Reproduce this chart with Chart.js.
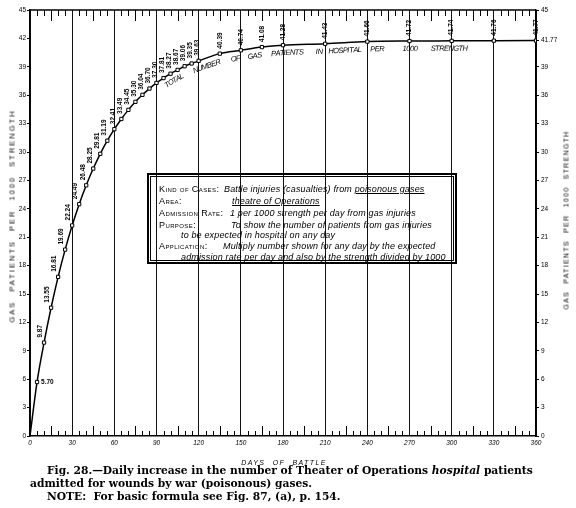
<!DOCTYPE html>
<html><head><meta charset="utf-8">
<script src="https://cdn.jsdelivr.net/npm/chart.js@4"></script>
<style>
html,body{margin:0;padding:0;background:#fff;}
#wrap{position:relative;width:576px;height:508px;overflow:hidden;background:#fff;}
#c{position:absolute;left:0;top:0;}
.rot{position:absolute;white-space:nowrap;font-family:"Liberation Sans",sans-serif;color:#000;transform:translate(-50%,-50%) rotate(-90deg);}
.xt{position:absolute;white-space:nowrap;font-family:"Liberation Sans",sans-serif;font-style:italic;color:#000;transform:translate(-50%,-50%);}
#box{position:absolute;left:147px;top:173px;width:304px;height:85px;border:2px solid #000;padding:1px;}
#inner{position:relative;width:100%;height:100%;border:1px solid #000;box-sizing:border-box;}
.bl{position:absolute;white-space:nowrap;font-family:"Liberation Sans",sans-serif;font-size:9px;line-height:10px;color:#000;}
.lab{font-variant:small-caps;font-size:9px;letter-spacing:0.4px;}
.it{font-style:italic;letter-spacing:0.15px;}
.u{text-decoration:underline;}
.cap{position:absolute;white-space:nowrap;font-family:"DejaVu Serif",serif;font-weight:bold;font-size:10.7px;line-height:13px;color:#000;}
</style></head>
<body><div id="wrap">
<canvas id="c" width="576" height="508"></canvas>
<div class="rot" style="left:12px;top:216px;font-size:7.5px;letter-spacing:2px;word-spacing:5px;">GAS PATIENTS PER 1000 STRENGTH</div>
<div class="rot" style="left:566px;top:220px;font-size:7px;letter-spacing:1.3px;word-spacing:4px;">GAS PATIENTS PER 1000 STRENGTH</div>
<div class="xt" style="left:284px;top:462px;font-size:7px;letter-spacing:1.4px;word-spacing:4px;">DAYS OF BATTLE</div>
<div id="box"><div id="inner">
<div class="bl lab" style="left:8px;top:7px;">Kind of Cases:</div>
<div class="bl it" style="left:73px;top:7px;">Battle injuries (casualties) from <span class="u">poisonous gases</span></div>
<div class="bl lab" style="left:8px;top:19px;">Area:</div>
<div class="bl it u" style="left:81px;top:19px;">theatre of Operations</div>
<div class="bl lab" style="left:8px;top:31px;">Admission Rate:</div>
<div class="bl it" style="left:79px;top:31px;">1 per 1000 strength per day from gas injuries</div>
<div class="bl lab" style="left:8px;top:43px;">Purpose:</div>
<div class="bl it" style="left:80px;top:43px;">To show the number of patients from gas injuries</div>
<div class="bl it" style="left:30px;top:53px;">to be expected in hospital on any day</div>
<div class="bl lab" style="left:8px;top:64px;">Application:</div>
<div class="bl it" style="left:72px;top:64px;">Multiply number shown for any day by the expected</div>
<div class="bl it" style="left:30px;top:75px;">admission rate per day and also by the strength divided by 1000</div>
</div></div>
<div class="cap" style="left:47px;top:464px;">Fig. 28.—Daily increase in the number of Theater of Operations <i>hospital</i> patients</div>
<div class="cap" style="left:30px;top:477px;">admitted for wounds by war (poisonous) gases.</div>
<div class="cap" style="left:47px;top:490px;">NOTE:&nbsp; For basic formula see Fig. 87, (a), p. 154.</div>
</div>
<script>
const days = [0,5,10,15,20,25,30,35,40,45,50,55,60,65,70,75,80,85,90,95,100,105,110,115,120,135,150,165,180,210,240,270,300,330,360];
const patients = [0,5.70,9.87,13.55,16.81,19.69,22.24,24.49,26.48,28.25,29.81,31.19,32.41,33.49,34.45,35.30,36.04,36.70,37.30,37.81,38.27,38.67,39.06,39.35,39.63,40.39,40.74,41.08,41.28,41.43,41.66,41.72,41.74,41.76,41.77];
const dayTicks = [0,30,60,90,120,150,180,210,240,270,300,330,360];
const leftTicks = [0,3,6,9,12,15,18,21,24,27,30,33,36,39,42,45];
const rightTicks = [0,3,6,9,12,15,18,21,24,27,30,33,36,39,41.77,45];
const curveWords = ['TOTAL','NUMBER','OF','GAS','PATIENTS','IN','HOSPITAL','PER','1000','STRENGTH'];

const FONT = '"Liberation Sans", sans-serif';

function curveVal(d){
  if (d <= days[0]) return patients[0];
  for (let i = 1; i < days.length; i++) {
    if (d <= days[i]) {
      const t = (d - days[i-1]) / (days[i] - days[i-1]);
      return patients[i-1] + t * (patients[i] - patients[i-1]);
    }
  }
  return patients[patients.length - 1];
}

const framePlugin = {
  id: 'frame',
  beforeDatasetsDraw(chart){
    const {ctx, chartArea:a, scales:{x}} = chart;
    ctx.save();
    ctx.strokeStyle = '#000';
    ctx.lineWidth = 1.5;
    ctx.beginPath(); ctx.moveTo(a.left, a.top); ctx.lineTo(a.right, a.top); ctx.stroke();
    ctx.lineWidth = 1;
    for (let d = 5; d < 360; d += 5) {
      if (d % 30 === 0) continue;
      const px = Math.round(x.getPixelForValue(d)) + 0.5;
      const lenTop = (d % 15 === 0) ? 11 : 6;
      const lenBot = (d % 15 === 0) ? 10 : 5;
      ctx.beginPath(); ctx.moveTo(px, a.top); ctx.lineTo(px, a.top + lenTop); ctx.stroke();
      ctx.beginPath(); ctx.moveTo(px, a.bottom); ctx.lineTo(px, a.bottom - lenBot); ctx.stroke();
    }
    ctx.restore();
  }
};

const labelPlugin = {
  id: 'ptLabels',
  afterDatasetsDraw(chart){
    const {ctx, scales:{x, y}} = chart;
    const meta = chart.getDatasetMeta(0);
    ctx.save();
    ctx.fillStyle = '#000';
    ctx.font = 'bold 6.5px ' + FONT;
    meta.data.forEach((pt, i) => {
      if (i === 0) return;
      const txt = patients[i].toFixed(2);
      if (i === 1) {
        ctx.textAlign = 'left'; ctx.textBaseline = 'middle';
        ctx.fillText(txt, pt.x + 4, pt.y);
        return;
      }
      const dx = i < 12 ? -3.5 : (i < 25 ? -1.5 : 0);
      ctx.save();
      ctx.translate(pt.x + dx, pt.y - 5);
      ctx.rotate(-Math.PI / 2);
      ctx.textAlign = 'left'; ctx.textBaseline = 'middle';
      ctx.fillText(txt, 0, 0);
      ctx.restore();
    });
    // curve caption
    const wordDays = [93,114,142,154,171,203,212,242,265,285];
    ctx.font = 'italic 7.5px ' + FONT;
    const yAt = px => y.getPixelForValue(curveVal(x.getValueForPixel(px)));
    curveWords.forEach((w, k) => {
      let px = x.getPixelForValue(wordDays[k]);
      for (const ch of w) {
        const wd = ctx.measureText(ch).width;
        const cx = px + wd / 2;
        const a = Math.atan2(yAt(cx + 3) - yAt(cx - 3), 6);
        ctx.save();
        ctx.translate(cx, yAt(cx));
        ctx.rotate(a);
        ctx.textAlign = 'center'; ctx.textBaseline = 'top';
        ctx.fillText(ch, 0, 4);
        ctx.restore();
        px += (wd * 0.85 + 0.2) * Math.cos(a);
      }
    });
    ctx.restore();
  }
};

new Chart(document.getElementById('c'), {
  type: 'line',
  data: {
    datasets: [{
      data: days.map((d, i) => ({x: d, y: patients[i]})),
      borderColor: '#000',
      borderWidth: 1.5,
      pointStyle: 'rect',
      pointRadius: ctx => ctx.dataIndex === 0 ? 0 : 2.3,
      pointBackgroundColor: '#fff',
      pointBorderColor: '#000',
      pointBorderWidth: 1,
      cubicInterpolationMode: 'monotone',
      yAxisID: 'y',
      xAxisID: 'x'
    }]
  },
  options: {
    responsive: false,
    animation: false,
    devicePixelRatio: 1,
    layout: {padding: {top: 10, bottom: 58, left: 0, right: 0}},
    plugins: {legend: {display: false}, tooltip: {enabled: false}},
    scales: {
      x: {
        type: 'linear', min: 0, max: 360, position: 'bottom',
        afterBuildTicks(s){ s.ticks = dayTicks.map(v => ({value: v})); },
        afterFit(s){ s.height = 14; },
        ticks: {font: {size: 6.5, style: 'italic', family: FONT}, color: '#000', padding: 3, maxRotation: 0, autoSkip: false},
        grid: {color: '#111', lineWidth: 1, drawTicks: false},
        border: {color: '#000', width: 1.5}
      },
      y: {
        type: 'linear', min: 0, max: 45, position: 'left',
        afterBuildTicks(s){ s.ticks = leftTicks.map(v => ({value: v})); },
        afterFit(s){ s.width = 30; },
        ticks: {font: {size: 6.5, family: FONT}, color: '#000', padding: 1, autoSkip: false},
        grid: {drawOnChartArea: false, tickLength: 3, color: '#000', tickColor: '#000'},
        border: {color: '#000', width: 1.5}
      },
      y2: {
        type: 'linear', min: 0, max: 45, position: 'right',
        afterBuildTicks(s){ s.ticks = rightTicks.map(v => ({value: v})); },
        afterFit(s){ s.width = 40; },
        ticks: {font: {size: 6.5, family: FONT}, color: '#000', padding: 2, autoSkip: false,
                callback: v => String(v)},
        grid: {drawOnChartArea: false, tickLength: 3, color: '#000', tickColor: '#000'},
        border: {color: '#000', width: 1.5}
      }
    }
  },
  plugins: [framePlugin, labelPlugin]
});
</script>
</body></html>
